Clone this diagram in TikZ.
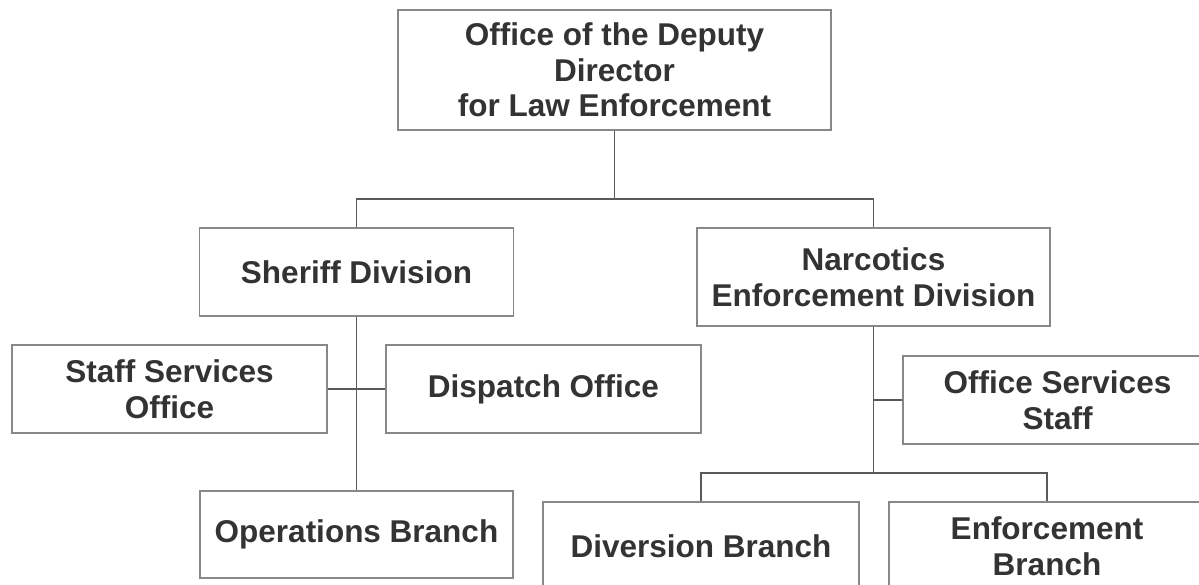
\documentclass[tikz,border=0pt]{standalone}
\usepackage{fontspec}
\setmainfont{Liberation Sans}
\definecolor{boxline}{HTML}{888888}
\definecolor{connline}{HTML}{595959}
\definecolor{txt}{HTML}{333333}
\tikzset{
  orgbox/.style={draw=boxline, line width=1.3pt, fill=white, align=center, inner sep=0pt,
    text=txt, font=\fontsize{31.5}{35.5}\selectfont\bfseries},
  conn/.style={draw=connline, line width=1.3pt}
}
\begin{document}
\begin{tikzpicture}[x=1pt,y=-1pt]
\useasboundingbox (0,0) rectangle (1199,585);
\clip (0,0) rectangle (1199,585);
\fill[white] (0,0) rectangle (1199,585);
% boxes
\node[orgbox, minimum width=433pt, minimum height=120pt] (top) at (614.5,70) {Office of the Deputy\\Director\\for Law Enforcement};
\node[orgbox, minimum width=314pt, minimum height=88pt] (sher) at (356.5,272) {Sheriff Division};
\node[orgbox, minimum width=353pt, minimum height=98pt] (narc) at (873.5,277) {Narcotics\\Enforcement Division};
\node[orgbox, minimum width=315pt, minimum height=88pt] (staff) at (169.5,389) {Staff Services\\Office};
\node[orgbox, minimum width=315pt, minimum height=88pt] (disp) at (543.5,389) {Dispatch Office};
\node[orgbox, minimum width=313pt, minimum height=87pt] (ops) at (356.5,534.5) {Operations Branch};
\node[orgbox, minimum width=309pt, minimum height=88pt] (oss) at (1057.5,400) {Office Services\\Staff};
\node[orgbox, minimum width=316pt, minimum height=88pt] (div) at (701,546) {Diversion Branch};
\node[orgbox, minimum width=316pt, minimum height=88pt] (enf) at (1047,546) {Enforcement\\Branch};
% connectors
\coordinate (bus1) at (614.5,199);
\coordinate (bus2) at (873.5,473);
\draw[conn] (top.south) -- (bus1);
\draw[conn] (sher.north) |- (bus1) -| (narc.north);
\draw[conn] (sher.south) -- (ops.north);
\draw[conn] (staff.east) -- (disp.west);
\draw[conn] (narc.south) -- (bus2);
\draw[conn] (oss.west) -- (oss.west -| narc.south);
\draw[conn] (div.north) |- (bus2) -| (enf.north);
\end{tikzpicture}
\end{document}
